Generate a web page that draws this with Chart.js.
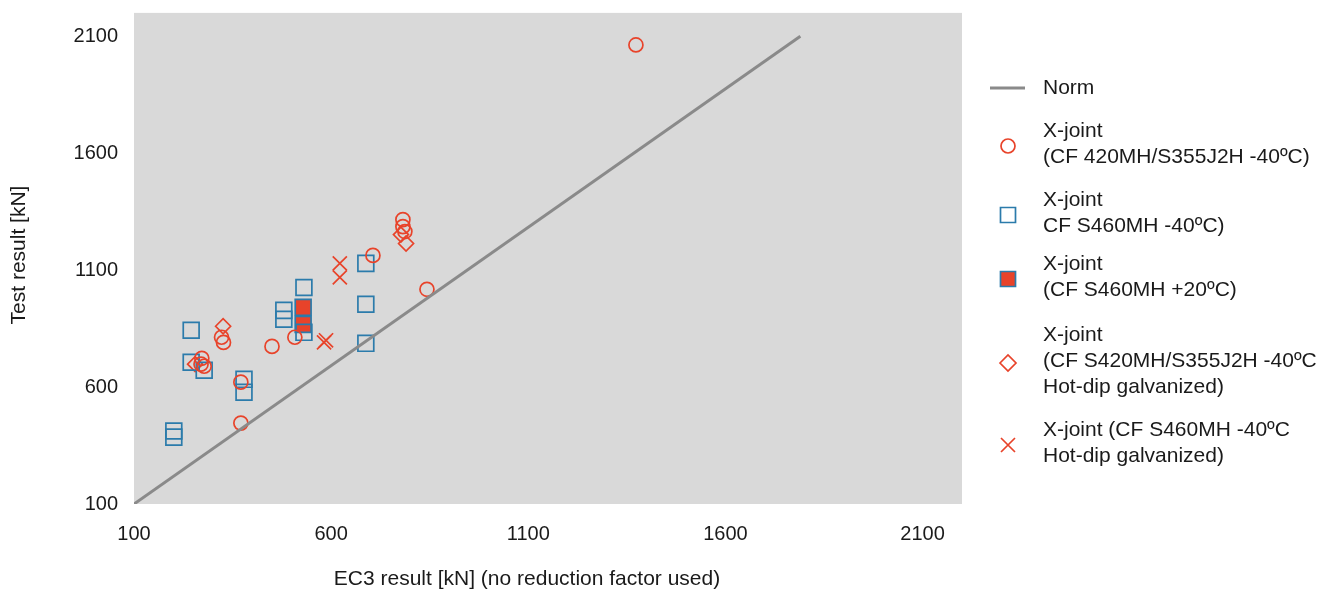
<!DOCTYPE html>
<html>
<head>
<meta charset="utf-8">
<script src="https://cdn.jsdelivr.net/npm/chart.js@4.4.1/dist/chart.umd.min.js"></script>
<style>
  html, body { margin: 0; padding: 0; background: #fff; }
</style>
</head>
<body>
<canvas id="chart" width="1338" height="594"></canvas>
<script>
// axis ticks
const xTicks = [100, 600, 1100, 1600, 2100];
const yTicks = [100, 600, 1100, 1600, 2100];

// norm line (EC3 vs test)
const normPts = [[100, 100], [1790, 2100]];

// X-joint (CF 420MH/S355J2H -40ºC)
const circlePts = [[1373, 2063], [782, 1316], [782, 1286], [787, 1265], [706, 1163], [843, 1018],
  [508, 813], [450, 774], [322, 813], [327, 791], [272, 723], [270, 698], [278, 689], [371, 621], [371, 446]];
// X-joint CF S460MH -40ºC)
const squarePts = [[245, 843], [245, 706], [278, 672], [379, 633], [379, 578], [201, 412], [201, 386],
  [480, 928], [480, 890], [531, 1026], [531, 834], [688, 1129], [688, 954], [688, 787]];
// X-joint (CF S460MH +20ºC)
const filledPts = [[529, 941], [529, 868]];
// X-joint (CF S420MH/S355J2H -40ºC Hot-dip galvanized)
const diamondPts = [[326, 860], [255, 698], [777, 1252], [790, 1214]];
// X-joint (CF S460MH -40ºC Hot-dip galvanized)
const crossPts = [[622, 1129], [622, 1069], [582, 791], [587, 800]];

const legendLabels = [
  ['Norm'],
  ['X-joint', '(CF 420MH/S355J2H -40ºC)'],
  ['X-joint', 'CF S460MH -40ºC)'],
  ['X-joint', '(CF S460MH +20ºC)'],
  ['X-joint', '(CF S420MH/S355J2H -40ºC', 'Hot-dip galvanized)'],
  ['X-joint (CF S460MH -40ºC', 'Hot-dip galvanized)']
];
const legendGaps = [43, 43, 38, 45, 43];

const RED = '#e8432a';
const BLUE = '#2b7bab';
const GREY = '#8a8a8a';
const TXT = '#1a1a1a';
const FONT = "'Liberation Sans', Arial, sans-serif";

const toXY = pts => pts.map(p => ({ x: p[0], y: p[1] }));

const plotBg = {
  id: 'plotBg',
  beforeDraw(chart) {
    const { ctx, chartArea: a } = chart;
    ctx.save();
    ctx.fillStyle = '#d9d9d9';
    ctx.fillRect(a.left, a.top, a.right - a.left, a.bottom - a.top);
    ctx.restore();
  }
};

// draws a small marker like the dataset's point style
function drawMarker(ctx, ds, x, y) {
  ctx.save();
  ctx.lineWidth = ds.pointBorderWidth;
  ctx.strokeStyle = ds.borderColor;
  ctx.fillStyle = ds.backgroundColor;
  const st = ds.pointStyle;
  ctx.beginPath();
  if (ds.showLine) {
    ctx.lineWidth = ds.borderWidth;
    ctx.moveTo(x - 18, y);
    ctx.lineTo(x + 17, y);
    ctx.stroke();
  } else if (st === 'circle') {
    ctx.arc(x, y, 7, 0, Math.PI * 2);
    ctx.stroke();
  } else if (st === 'rect') {
    ctx.rect(x - 7.5, y - 7.5, 15, 15);
    if (ds.backgroundColor !== 'transparent') ctx.fill();
    ctx.stroke();
  } else if (st === 'rectRot') {
    ctx.moveTo(x - 8, y); ctx.lineTo(x, y - 8); ctx.lineTo(x + 8, y); ctx.lineTo(x, y + 8); ctx.closePath();
    ctx.stroke();
  } else if (st === 'crossRot') {
    ctx.moveTo(x - 7, y - 7); ctx.lineTo(x + 7, y + 7);
    ctx.moveTo(x + 7, y - 7); ctx.lineTo(x - 7, y + 7);
    ctx.stroke();
  }
  ctx.restore();
}

const sideLegend = {
  id: 'sideLegend',
  afterDraw(chart) {
    const ctx = chart.ctx;
    ctx.save();
    ctx.font = '21px ' + FONT;
    ctx.fillStyle = TXT;
    ctx.textBaseline = 'middle';
    let y = 88;
    chart.data.datasets.forEach((ds, i) => {
      const lines = legendLabels[i];
      const mid = y + (lines.length - 1) * 26 / 2;
      drawMarker(ctx, ds, 1008, lines.length > 1 ? mid + 2 : mid);
      ctx.fillStyle = TXT;
      lines.forEach((t, k) => ctx.fillText(t, 1043, y + k * 26));
      y += (lines.length - 1) * 26 + (legendGaps[i] || 43);
    });

    // axis titles
    ctx.textAlign = 'center';
    ctx.fillText('EC3 result [kN] (no reduction factor used)', 527, 579);
    ctx.translate(19, 255);
    ctx.rotate(-Math.PI / 2);
    ctx.fillText('Test result [kN]', 0, 0);
    ctx.restore();
  }
};

const openPoint = (style, color, r) => ({
  showLine: false,
  pointStyle: style,
  pointRadius: r,
  pointHoverRadius: r,
  borderColor: color,
  backgroundColor: 'transparent',
  pointBorderWidth: 1.7
});

const noPad = s => { s.paddingTop = 0; s.paddingBottom = 0; s.paddingLeft = 0; s.paddingRight = 0; };

new Chart(document.getElementById('chart'), {
  type: 'scatter',
  data: {
    datasets: [
      { label: 'Norm', data: toXY(normPts), showLine: true, pointRadius: 0, borderColor: GREY,
        backgroundColor: GREY, borderWidth: 3, pointBorderWidth: 0 },
      { label: legendLabels[1].join(' '), data: toXY(circlePts), ...openPoint('circle', RED, 7) },
      { label: legendLabels[2].join(' '), data: toXY(squarePts), ...openPoint('rect', BLUE, 11.2) },
      { label: legendLabels[3].join(' '), data: toXY(filledPts), ...openPoint('rect', BLUE, 11.2), backgroundColor: RED },
      { label: legendLabels[4].join(' '), data: toXY(diamondPts), ...openPoint('rectRot', RED, 7.5) },
      { label: legendLabels[5].join(' '), data: toXY(crossPts), ...openPoint('crossRot', RED, 10) }
    ]
  },
  options: {
    responsive: false,
    animation: false,
    devicePixelRatio: 1,
    layout: { padding: { top: 12, right: 376, left: 0, bottom: 0 } },
    plugins: {
      legend: { display: false },
      tooltip: { enabled: false }
    },
    scales: {
      x: {
        type: 'linear', min: 100, max: 2200,
        afterBuildTicks: s => { s.ticks = xTicks.map(v => ({ value: v })); },
        afterFit: s => { s.height = 90; noPad(s); },
        grid: { display: false, drawTicks: false },
        border: { display: false },
        ticks: { padding: 18, color: TXT, font: { size: 20, family: FONT }, maxRotation: 0,
          callback: v => String(v) }
      },
      y: {
        type: 'linear', min: 100, max: 2200,
        afterBuildTicks: s => { s.ticks = yTicks.map(v => ({ value: v })); },
        afterFit: s => { s.width = 134; noPad(s); },
        grid: { display: false, drawTicks: false },
        border: { display: false },
        ticks: { padding: 16, color: TXT, font: { size: 20, family: FONT },
          callback: v => String(v) }
      }
    }
  },
  plugins: [plotBg, sideLegend]
});
</script>
</body>
</html>
